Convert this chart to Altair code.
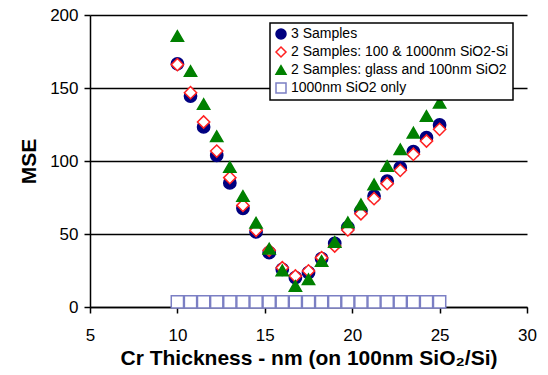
import altair as alt
import pandas as pd

x_vals = [10, 10.75, 11.5, 12.25, 13, 13.75, 14.5, 15.25, 16, 16.75, 17.5,
          18.25, 19, 19.75, 20.5, 21.25, 22, 22.75, 23.5, 24.25, 25]

three_samples = [166.6, 144.5, 123.3, 103.9, 85.0, 67.6, 51.4, 37.2, 25.8, 20.1, 23.5,
                 33.1, 43.6, 54.5, 65.8, 76.0, 86.3, 95.4, 106.4, 116.0, 124.7]
two_si = [166.0, 146.8, 126.7, 106.8, 88.6, 69.6, 52.5, 38.8, 26.9, 21.2, 24.7,
          33.8, 41.8, 52.8, 63.9, 74.2, 84.5, 93.6, 104.6, 113.7, 121.7]
two_glass = [185.6, 161.6, 139.0, 117.0, 95.9, 76.0, 57.7, 40.0, 25.1, 14.4, 19.0,
             31.5, 44.5, 58.0, 70.3, 84.0, 96.6, 108.0, 119.4, 130.8, 140.0]
only_1000 = [3.5] * 21

series_names = ["3 Samples", "2 Samples: 100 & 1000nm SiO2-Si",
                "2 Samples: glass and 100nm SiO2", "1000nm SiO2 only"]
series_vals = [three_samples, two_si, two_glass, only_1000]

rows = []
for i, (name, vals) in enumerate(zip(series_names, series_vals)):
    for xv, yv in zip(x_vals, vals):
        rows.append({"x": xv, "y": yv, "series": name, "ord": i})
df = pd.DataFrame(rows)

fills = ["#000080", "#ffffff", "#008000", "#ffffff"]
strokes = ["#000080", "#ff2020", "#008000", "#7b7fc4"]
shapes = ["circle", "diamond", "triangle-up", "square"]

chart = alt.Chart(df).mark_point(strokeWidth=1.5, size=150, opacity=1).encode(
    x=alt.X("x:Q", scale=alt.Scale(domain=[5, 30], nice=False),
            axis=alt.Axis(values=[5, 10, 15, 20, 25, 30], grid=False, labelFlush=False,
                          title="Cr Thickness - nm (on 100nm SiO₂/Si)")),
    y=alt.Y("y:Q", scale=alt.Scale(domain=[0, 200], nice=False),
            axis=alt.Axis(values=[0, 50, 100, 150, 200], grid=True, labelFlush=False, title="MSE")),
    fill=alt.Fill("series:N", scale=alt.Scale(domain=series_names, range=fills), title=None),
    stroke=alt.Stroke("series:N", scale=alt.Scale(domain=series_names, range=strokes), title=None),
    shape=alt.Shape("series:N", scale=alt.Scale(domain=series_names, range=shapes), title=None),
    order=alt.Order("ord:Q"),
).properties(
    width=437, height=292,
    padding={"left": 18, "top": 6, "right": 5, "bottom": 5},
).configure_view(stroke=None).configure_legend(
    orient="none", legendX=180, legendY=8,
    fillColor="white", strokeColor="black", strokeWidth=1.5,
    padding=4, labelFontSize=14, labelFont="Liberation Sans",
    labelColor="black", symbolSize=100, symbolStrokeWidth=1.5, symbolOpacity=1,
    rowPadding=2, labelOffset=3, labelLimit=400,
).configure_axis(
    domainColor="black", domainWidth=1.5, tickColor="black", tickWidth=1.5,
    tickSize=6, gridColor="black", gridWidth=1.5, gridOpacity=1,
    labelFont="Liberation Sans", labelFontSize=17, labelColor="black",
    titleFont="Liberation Sans", titleFontSize=21, titleFontWeight="bold", titleColor="black",
).configure_axisX(labelPadding=14, titlePadding=4).configure_axisY(
    labelPadding=6, titlePadding=10
)

chart.save("out.html", embed_options={"renderer": "svg", "actions": False})
